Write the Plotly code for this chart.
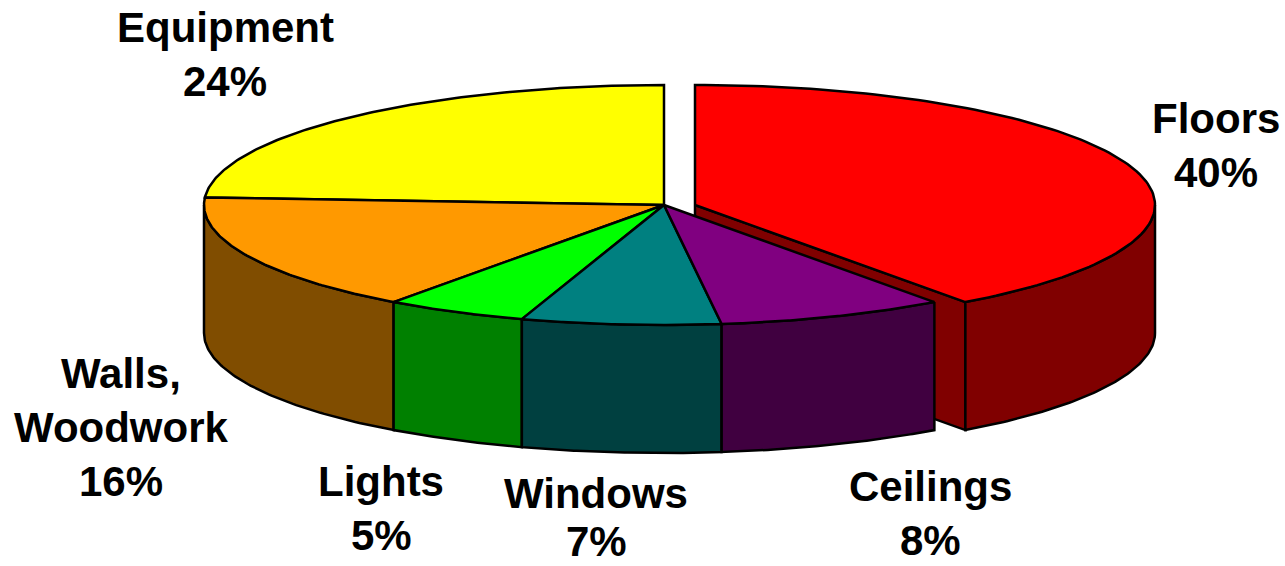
import numpy as np
import plotly.graph_objects as go

categories = ["Floors", "Ceilings", "Windows", "Lights", "Walls, Woodwork", "Equipment"]
values = [40, 8, 7, 5, 16, 24]
top_colors = ["#FF0000", "#800080", "#008080", "#00FF00", "#FF9900", "#FFFF00"]
side_colors = ["#800000", "#400040", "#004040", "#008000", "#804D00", "#808000"]
exploded = [31, 0, 0, 0, 0, 0]
label_lines = [["Floors", "40%"], ["Ceilings", "8%"], ["Windows", "7%"], ["Lights", "5%"],
               ["Walls,", "Woodwork", "16%"], ["Equipment", "24%"]]
label_anchor = [(1216, 118), (930, 486), (596, 493), (381, 481), (121, 373), (225, 27)]
line_steps = [54, 54, 48, 54, 54, 54]

CX, CY, RX, RY, DEPTH = 664, 205, 460, 120, 128

def pt(a, dx=0, drop=0):
    return CX + dx + RX * np.sin(a), CY + drop + RY * (-np.cos(a))

edges = np.radians(np.concatenate([[0], np.cumsum(values)]) * 3.6)
fig = go.Figure()

def poly(xs, ys, color):
    xs, ys = list(xs), list(ys)
    fig.add_trace(go.Scatter(x=xs + xs[:1], y=ys + ys[:1], mode="lines", fill="toself",
                             fillcolor=color, line=dict(color="black", width=2.5),
                             hoverinfo="skip", showlegend=False))

# inner cut wall of the exploded slice
dx0 = exploded[0]
ex, ey = pt(edges[1], dx0)
poly([CX + dx0, ex, ex, CX + dx0], [CY, ey, ey + DEPTH, CY + DEPTH], side_colors[0])

order = [0, 5, 4, 3, 2, 1]
# visible rim faces (front half of the ellipse)
for i in order:
    lo = max(edges[i], np.pi / 2)
    hi = min(edges[i + 1], 3 * np.pi / 2)
    if hi <= lo:
        continue
    a = np.linspace(lo, hi, 80)
    x, y = pt(a, exploded[i])
    poly(np.r_[x, x[::-1]], np.r_[y, (y + DEPTH)[::-1]], side_colors[i])

# top faces
for i in order:
    a = np.linspace(edges[i], edges[i + 1], 120)
    x, y = pt(a, exploded[i])
    poly(np.r_[CX + exploded[i], x], np.r_[CY, y], top_colors[i])

for lines, (lx, ly), step in zip(label_lines, label_anchor, line_steps):
    for k, s in enumerate(lines):
        fig.add_annotation(x=lx, y=ly + k * step, text=f"<b>{s}</b>", showarrow=False,
                           xanchor="center", yanchor="middle",
                           font=dict(family="Liberation Sans, Arial, sans-serif", size=42, color="black"))

fig.update_xaxes(range=[0, 1285], visible=False, fixedrange=True)
fig.update_yaxes(range=[566, 0], visible=False, fixedrange=True)
fig.update_layout(width=1285, height=566, margin=dict(l=0, r=0, t=0, b=0),
                  paper_bgcolor="white", plot_bgcolor="white", showlegend=False)
fig.write_html("out.html", config={"displayModeBar": False},
               post_script="document.body.style.margin='0';")
